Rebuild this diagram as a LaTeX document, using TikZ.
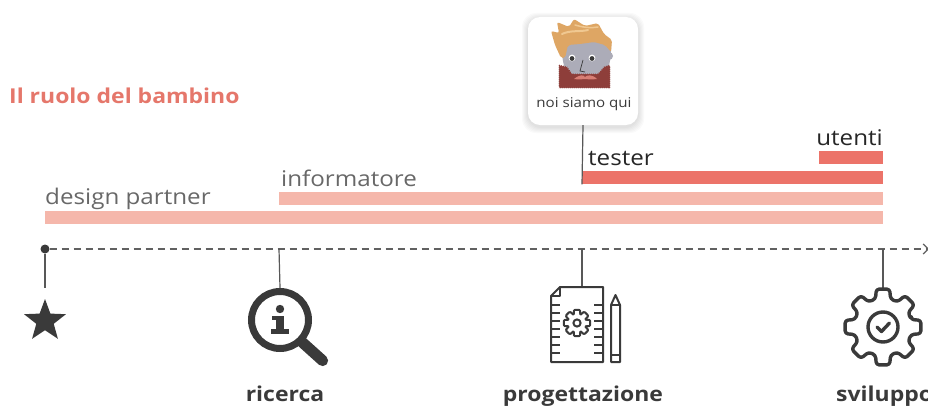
\documentclass[tikz,border=0pt]{standalone}
\usepackage{fontspec}
\setmainfont{Open Sans}[FakeStretch=1.12]
\usetikzlibrary{positioning,shapes.geometric,arrows.meta,decorations.pathmorphing}

\definecolor{roleLight}{RGB}{245,183,171}
\definecolor{roleDark}{RGB}{236,115,105}
\definecolor{titleRed}{RGB}{229,119,107}
\definecolor{labelGray}{RGB}{104,104,104}
\definecolor{iconGray}{RGB}{58,58,58}
\definecolor{hairBlond}{RGB}{222,166,100}
\definecolor{hairLight}{RGB}{240,200,145}
\definecolor{skinGray}{RGB}{172,172,184}
\definecolor{beardRed}{RGB}{142,62,58}
\definecolor{mustachePink}{RGB}{216,126,116}

\begin{document}
\begin{tikzpicture}[x=1pt,y=1pt,yscale=-1,
  bar/.style={rectangle, inner sep=0pt, minimum height=13pt, anchor=north west},
  role/.style={inner sep=0pt, font=\fontsize{21.6}{25}\selectfont},
  phase/.style={inner sep=0pt, font=\bfseries\fontsize{20.5}{24}\selectfont, text=iconGray},
  tick/.style={draw=iconGray!85, line width=1.2pt},
  icon/.style={draw=iconGray, line width=2pt, line join=round}
]
\useasboundingbox (0,0) rectangle (928,409);

% Text Node
\node[anchor=base west, inner sep=0pt, text=titleRed, font=\bfseries\fontsize{20.5}{25}\selectfont] (title) at (9,104) {Il ruolo del bambino};

%Shape: Rectangle (role bars)
\node[bar, fill=roleLight, minimum width=838pt] (designBar) at (45,211) {};
\node[bar, fill=roleLight, minimum width=604pt] (infoBar) at (279,192) {};
\node[bar, fill=roleDark, minimum width=301pt] (testerBar) at (582,171) {};
\node[bar, fill=roleDark, minimum width=64pt] (userBar) at (819,151) {};

% Text Node
\node[role, text=labelGray, anchor=base west] (designLbl) at (45,204) {design partner};
% Text Node
\node[role, text=labelGray, anchor=base west] (infoLbl) at (281,186) {informatore};
% Text Node
\node[role, text=black!85, anchor=base west] (testerLbl) at (588,165) {tester};
% Text Node
\node[role, text=black!85, anchor=base east] (userLbl) at (883,145) {utenti};

%Shape: Rounded Rectangle with soft shadow
\foreach \s in {2,4,...,12}
  \node[rounded corners=14pt, fill=black, fill opacity=0.018, minimum width=110pt+\s pt, minimum height=108pt+\s pt] at (583,73) {};
\node[rounded corners=12pt, fill=white, minimum width=110pt, minimum height=108pt] (hereBox) at (583,71) {};

% face
\fill[skinGray] (562,40) .. controls (561,70) and (567,80) .. (586,81) .. controls (606,80) and (612,70) .. (611,40) -- cycle;
\fill[skinGray] (609,56) circle (4);
\fill[hairBlond, rounded corners=2pt] (561,58) -- (555,45) -- (551,31) -- (559,33) -- (557,22) -- (569,27) -- (574,19) -- (585,26) -- (598,23) -- (604,34) -- (612,40) -- (611,52) -- (605,45) -- (594,42) -- (580,44) -- (568,45) -- (565,58) -- cycle;
\draw[hairLight, line width=2pt, line cap=round] (562,34) .. controls (570,30) and (580,32) .. (588,30);
\draw[hairLight, line width=1.5pt, line cap=round] (575,25) .. controls (585,28) and (592,28) .. (598,27);
\fill[white] (572,58) circle (3.4);
\fill[white] (592,58) circle (3.4);
\fill[iconGray] (572,58.5) circle (2.4);
\fill[iconGray] (592,58.5) circle (2.4);
\draw[iconGray, line width=0.7pt] (583,60) -- (580,71) -- (585,72);
\fill[beardRed, decorate, decoration={zigzag, amplitude=0.6pt, segment length=2pt}] (559,65) -- (567,67) -- (572,74) -- (598,74) -- (604,67) -- (610,65) -- (610,88) -- (559,88) -- cycle;
\fill[mustachePink] (574,79) .. controls (580,74) and (584,75) .. (585,77) .. controls (587,75) and (592,74) .. (597,79) .. controls (590,80) and (587,79) .. (585,79) .. controls (583,79) and (580,80) .. (574,79) -- cycle;

% Text Node
\node[inner sep=0pt, text=iconGray, font=\fontsize{13.5}{16}\selectfont] (hereLbl) at (584,104) {noi siamo qui};

%Straight Lines
\draw[tick] (hereBox.south) -- (testerBar.south west);

% timeline
\node[circle, fill=iconGray, inner sep=0pt, minimum size=9pt] (origin) at (45,249) {};
\coordinate (timeEnd) at (929,249);
\draw[draw=iconGray!80, line width=1.2pt, dash pattern=on 7pt off 5pt, -{Straight Barb[length=5pt,width=10pt]}] (origin) -- (timeEnd);

%Shape: Star
\node[star, star points=5, star point ratio=2.4, fill=iconGray, inner sep=0pt, minimum size=44pt] (star) at (45,321) {};
\draw[tick, shorten >=10pt] (origin) -- (star.north);

%Shape: Magnifier
\coordinate (tRicerca) at (279,249);
\node[circle, draw=iconGray, line width=7pt, inner sep=0pt, minimum size=57pt] (lens) at (280,320) {};
\draw[tick] (tRicerca) -- (lens.north);
\draw[iconGray, line width=11pt, line cap=round] (lens.south east) -- ++(20,18);
\fill[iconGray] (280,309) circle (4.2);
\fill[iconGray] (272,316) rectangle (284,320);
\fill[iconGray] (276,316) rectangle (284,333);
\fill[iconGray] (271,329) rectangle (289,334);

%Shape: Document with gear and pencil
\coordinate (tProg) at (582,249);
\coordinate (docTop) at (582,287);
\draw[tick] (tProg) -- (docTop);
\draw[icon] (560,287) -- (603,287) -- (603,362) -- (551,362) -- (551,296) -- cycle;
\draw[icon] (551,296) -- (560,296) -- (560,287);
\foreach \y in {305,313,...,353} {
  \draw[icon] (551,\y) -- (560,\y);
  \draw[icon] (594,\y) -- (603,\y);
}
\begin{scope}[shift={(577,323)}]
  \draw[icon, rounded corners=1pt] (-20:9.5) \foreach \a in {0,45,...,315} { -- (\a-20:9.5) -- (\a-13:13.5) -- (\a+13:13.5) -- (\a+20:9.5) } -- cycle;
  \draw[icon] (0,0) circle (3.6);
\end{scope}
\draw[icon] (611,362) -- (611,305) -- (615.5,295) -- (620,305) -- (620,362) -- cycle;
\draw[icon] (611,305) -- (620,305);
\draw[icon] (611,355) -- (620,355);

%Shape: Gear with check
\coordinate (tSvil) at (883,249);
\coordinate (gearTop) at (883,288);
\draw[tick] (tSvil) -- (gearTop);
\begin{scope}[shift={(883,327)}]
  \draw[icon, line width=3.4pt, rounded corners=3pt] (-15:29) \foreach \a in {0,45,...,315} { -- (\a-15:29) -- (\a-10:38.5) -- (\a+10:38.5) -- (\a+15:29) } -- cycle;
  \draw[icon, line width=3.4pt] (0,0) circle (15);
  \draw[icon, line width=3.4pt, line cap=round] (-6,0) -- (-1.5,4.5) -- (6.5,-4);
\end{scope}

% Text Node
\node[phase, anchor=base] (ricercaLbl) at (285,401) {ricerca};
% Text Node
\node[phase, anchor=base] (progLbl) at (583,401) {progettazione};
% Text Node
\node[phase, anchor=base west] (svilLbl) at (836,401) {sviluppo};

\end{tikzpicture}
\end{document}
